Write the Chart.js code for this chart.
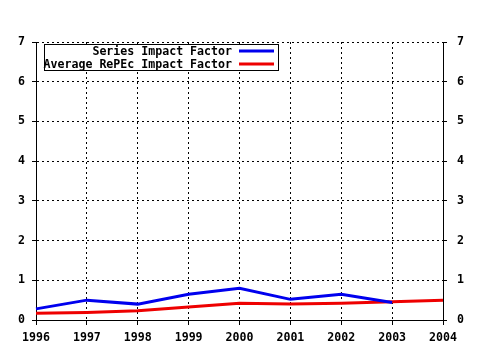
<!DOCTYPE html>
<html>
<head>
<meta charset="utf-8">
<script src="https://cdn.jsdelivr.net/npm/chart.js@4/dist/chart.umd.min.js"></script>
<style>
  html, body { margin: 0; padding: 0; background: #fff; }
</style>
</head>
<body>
<canvas id="c" width="480" height="350"></canvas>
<script>
// Impact factor by year
const years = ['1996', '1997', '1998', '1999', '2000', '2001', '2002', '2003', '2004'];
const seriesImpact = [0.28, 0.50, 0.40, 0.65, 0.80, 0.52, 0.65, 0.44, null];
const averageImpact = [0.17, 0.19, 0.23, 0.33, 0.42, 0.40, 0.42, 0.46, 0.50];
const seriesLabels = ['Series Impact Factor', 'Average RePEc Impact Factor'];
const seriesColors = ['#0000ee', '#ee0000'];
const yMin = 0, yMax = 7, yStep = 1;

const FONT = '"DejaVu Sans Mono", "Liberation Mono", monospace';

// Boxed legend in the upper-left corner: right-aligned labels, line swatches on the right
const boxLegend = {
  id: 'boxLegend',
  afterDraw(chart) {
    const ctx = chart.ctx;
    const x0 = 44.5, y0 = 44.5, w = 234, h = 26;
    ctx.save();
    ctx.fillStyle = '#fff';
    ctx.fillRect(x0, y0, w, h);
    ctx.strokeStyle = '#000';
    ctx.lineWidth = 1;
    ctx.strokeRect(x0, y0, w, h);
    ctx.font = 'bold 11.6px ' + FONT;
    ctx.textAlign = 'right';
    ctx.textBaseline = 'middle';
    chart.data.datasets.forEach((ds, i) => {
      const y = 51 + i * 13;
      ctx.fillStyle = '#000';
      ctx.fillText(ds.label, 232, y + 0.5);
      ctx.strokeStyle = ds.borderColor;
      ctx.lineWidth = 3;
      ctx.beginPath();
      ctx.moveTo(239, y);
      ctx.lineTo(274, y);
      ctx.stroke();
    });
    ctx.restore();
  }
};

const tickFont = { family: FONT, size: 11.6, weight: 'bold' };

new Chart(document.getElementById('c'), {
  type: 'line',
  data: {
    labels: years,
    datasets: [
      { label: seriesLabels[0], data: seriesImpact, borderColor: seriesColors[0], backgroundColor: seriesColors[0],
        borderWidth: 3, pointRadius: 0, tension: 0, spanGaps: false, yAxisID: 'y' },
      { label: seriesLabels[1], data: averageImpact, borderColor: seriesColors[1], backgroundColor: seriesColors[1],
        borderWidth: 3, pointRadius: 0, tension: 0, yAxisID: 'y' }
    ]
  },
  options: {
    responsive: false,
    animation: false,
    layout: { padding: { top: 42, left: 0, right: 0, bottom: 0 } },
    plugins: { legend: { display: false }, tooltip: { enabled: false } },
    scales: {
      x: {
        offset: false,
        grid: { color: '#000', lineWidth: 1, drawTicks: true, tickLength: 5, tickColor: '#000', tickBorderDash: [] },
        border: { display: true, color: '#000', width: 1, dash: [2, 3] },
        ticks: { color: '#000', font: tickFont, maxRotation: 0, autoSkip: false, padding: 6 },
        afterFit(s) { s.height = 30; }
      },
      y: {
        position: 'left',
        min: yMin, max: yMax,
        grid: { color: '#000', lineWidth: 1, drawTicks: true, tickLength: 4, tickColor: '#000', tickBorderDash: [] },
        border: { display: true, color: '#000', width: 1, dash: [2, 3] },
        ticks: { stepSize: yStep, color: '#000', font: tickFont, padding: 7 },
        afterFit(s) { s.width = 36; }
      },
      y2: {
        position: 'right',
        min: yMin, max: yMax,
        grid: { drawOnChartArea: false, drawTicks: true, tickLength: 4, color: '#000' },
        border: { display: true, color: '#000', width: 1 },
        ticks: { stepSize: yStep, color: '#000', font: tickFont, padding: 10 },
        afterFit(s) { s.width = 37; }
      }
    }
  },
  plugins: [boxLegend]
});
</script>
</body>
</html>
